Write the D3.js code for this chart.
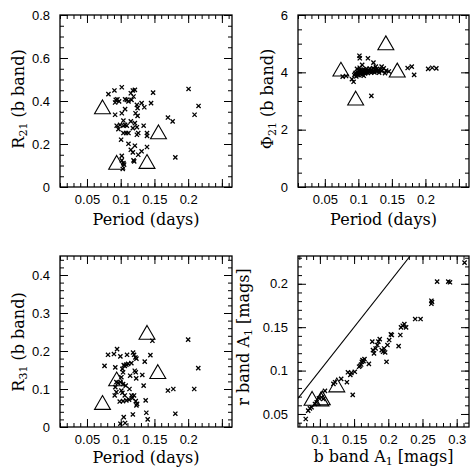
<!DOCTYPE html>
<html><head><meta charset="utf-8">
<script src="https://cdn.jsdelivr.net/npm/d3@7"></script>
<style>body{margin:0;background:#fff}svg{display:block}</style>
</head><body>
<svg id="c" width="471" height="468"></svg>
<script>
// ---------- DATA ----------
// Panel 1: R21 vs Period
const p1Period = [0.0818,0.0907,0.1016,0.0927,0.0951,0.0917,0.0976,0.1065,0.109,0.1115,0.115,0.118,0.121,0.119,0.116,0.124,0.125,0.122,0.125,0.131,0.135,0.145,0.148,0.0917,0.1016,0.1065,0.104,0.099,0.104,0.1065,0.109,0.094,0.0966,0.115,0.121,0.124,0.118,0.134,0.139,0.139,0.104,0.108,0.1115,0.124,0.126,0.1006,0.1115,0.121,0.115,0.118,0.131,0.139,0.1016,0.1016,0.104,0.105,0.103,0.119,0.12,0.126,0.170,0.177,0.181,0.2006,0.2095,0.2154];
const p1R21 = [0.432,0.449,0.464,0.405,0.408,0.393,0.398,0.408,0.405,0.398,0.436,0.449,0.452,0.421,0.405,0.382,0.367,0.343,0.331,0.390,0.371,0.390,0.439,0.336,0.343,0.362,0.309,0.289,0.285,0.289,0.285,0.285,0.269,0.305,0.297,0.278,0.274,0.285,0.251,0.238,0.251,0.251,0.251,0.243,0.251,0.220,0.201,0.192,0.173,0.161,0.166,0.186,0.145,0.124,0.111,0.104,0.084,0.124,0.119,0.150,0.323,0.305,0.138,0.456,0.336,0.377];
const p1TriPeriod = [0.073,0.094,0.139,0.156];
const p1TriR21 = [0.362,0.104,0.108,0.246];

// Panel 2: Phi21 vs Period
const p2Period = [0.0766,0.0817,0.0904,0.0929,0.1016,0.1021,0.1143,0.1225,0.1057,0.126,0.1347,0.1378,0.1414,0.1398,0.1454,0.1194,0.1735,0.1796,0.1832,0.2041,0.2102,0.2163,
  0.094,0.095,0.096,0.097,0.098,0.099,0.100,0.100,0.101,0.102,0.103,0.103,0.104,0.105,0.106,0.106,0.107,0.108,0.109,0.110,0.110,0.111,0.112,0.113,0.114,0.115,0.116,0.117,0.118,0.119,0.120,0.121,0.122,0.123,0.124,0.125,0.127,0.128,0.130,0.131,0.133,0.135,0.098,0.102,0.108];
const p2Phi21 = [3.85,3.87,3.76,3.67,4.58,4.49,4.49,4.34,4.26,4.20,4.20,4.14,4.06,3.97,4.03,3.18,4.15,4.20,3.91,4.12,4.16,4.14,
  3.90,3.95,3.98,3.86,3.93,4.00,3.96,3.90,4.05,3.99,3.94,4.08,4.02,3.97,4.05,3.92,4.00,4.10,4.03,3.96,4.07,4.00,4.12,4.04,3.98,4.08,4.02,4.13,4.05,3.99,4.09,4.03,4.15,4.06,4.00,4.10,4.04,4.12,4.06,3.99,4.10,4.04,4.12,4.16,3.88];
const p2TriPeriod = [0.074,0.096,0.141,0.158];
const p2TriPhi21 = [4.03,3.02,4.95,4.00];

// Panel 3: R31 vs Period
const p3Period = [0.0812,0.090,0.0946,0.0995,0.1094,0.1183,0.1198,0.1218,0.1233,0.1356,0.144,0.147,0.2,0.076,0.092,0.1045,0.106,0.1084,0.111,0.1025,0.1035,0.1158,0.1208,0.1223,0.114,0.123,0.132,0.134,0.101,0.0936,0.096,0.0995,0.1035,0.1074,0.092,0.0936,0.0911,0.101,0.1025,0.113,0.106,0.116,0.0985,0.1035,0.1084,0.1124,0.1173,0.1198,0.1223,0.1243,0.1233,0.137,0.118,0.138,0.14,0.1045,0.1065,0.0995,0.17,0.178,0.181,0.209,0.215];
const p3R31 = [0.190,0.192,0.205,0.186,0.190,0.196,0.190,0.183,0.180,0.172,0.189,0.227,0.230,0.161,0.157,0.163,0.161,0.164,0.166,0.153,0.144,0.168,0.148,0.144,0.135,0.128,0.137,0.109,0.131,0.118,0.116,0.118,0.113,0.109,0.105,0.092,0.083,0.096,0.090,0.100,0.083,0.083,0.067,0.068,0.070,0.072,0.076,0.083,0.068,0.061,0.057,0.070,0.033,0.0375,0.020,0.026,0.0105,0.0087,0.096,0.100,0.035,0.100,0.155];
const p3TriPeriod = [0.073,0.094,0.139,0.155];
const p3TriR31 = [0.0585,0.1205,0.243,0.1397];

// Panel 4: r band A1 vs b band A1
const p4Ab = [0.0793,0.0829,0.0854,0.0879,0.0928,0.0953,0.0986,0.1025,0.105,0.1074,0.1198,0.1222,0.1311,0.1395,0.141,0.1445,0.146,0.148,0.151,0.1573,0.1588,0.1603,0.1613,0.1623,0.1637,0.1652,0.1716,0.1766,0.1776,0.1791,0.1815,0.184,0.1855,0.1875,0.1904,0.1924,0.1939,0.1954,0.1974,0.1988,0.2013,0.2038,0.2052,0.2151,0.2176,0.2186,0.2211,0.2235,0.226,0.2393,0.2472,0.2630,0.264,0.263,0.2714,0.2877,0.2902,0.3115];
const p4Ar = [0.0442,0.0538,0.0565,0.0577,0.0615,0.0635,0.0681,0.0692,0.0673,0.0766,0.0847,0.0866,0.0905,0.0866,0.098,0.0951,0.0974,0.072,0.0986,0.1044,0.1055,0.1070,0.1101,0.1121,0.1109,0.1132,0.1077,0.1333,0.1236,0.1198,0.1255,0.1294,0.1333,0.1363,0.1236,0.1217,0.1255,0.1209,0.1101,0.1294,0.1352,0.1417,0.1410,0.1282,0.1410,0.1498,0.1517,0.1536,0.1498,0.1594,0.1594,0.1805,0.179,0.177,0.2025,0.2025,0.2017,0.2244];
const p4TriAb = [0.0886,0.1015,0.1035,0.1247];
const p4TriAr = [0.0654,0.0646,0.066,0.0808];

// Axis settings (domains and labelled tick values)
const xPeriodDomain = [0.01, 0.265];
const xPeriodLabels = [0.05, 0.1, 0.15, 0.2];
const y1Domain = [0, 0.8], y1Labels = [0, 0.2, 0.4, 0.6, 0.8];
const y2Domain = [0, 6],   y2Labels = [0, 2, 4, 6];
const y3Domain = [0, 0.45], y3Labels = [0, 0.1, 0.2, 0.3, 0.4];
const x4Domain = [0.068, 0.318], x4Labels = [0.1, 0.15, 0.2, 0.25, 0.3];
const y4Domain = [0.035, 0.232], y4Labels = [0.05, 0.1, 0.15, 0.2];

// ---------- DRAWING ----------
const svg = d3.select("#c");
const fmt = v => String(+v.toFixed(4));

function stepValues(dom, step) {
  const a = Math.ceil(dom[0] / step - 1e-6), b = Math.floor(dom[1] / step + 1e-6);
  return d3.range(a, b + 1).map(k => +(k * step).toFixed(6));
}

function panel(o) {
  const g = svg.append("g");
  const x = d3.scaleLinear().domain(o.xDomain).range([o.box[0], o.box[1]]);
  const y = d3.scaleLinear().domain(o.yDomain).range([o.box[3], o.box[2]]);
  const xMaj = stepValues(o.xDomain, o.xMajor), xMin = stepValues(o.xDomain, o.xMinor);
  const yMaj = stepValues(o.yDomain, o.yMajor), yMin = stepValues(o.yDomain, o.yMinor);
  const lab = arr => v => arr.some(a => Math.abs(a - v) < 1e-6) ? fmt(v) : "";
  const B = o.box;
  const axes = [
    [d3.axisBottom(x).tickValues(xMin).tickSize(-4).tickFormat(""), `translate(0,${B[3]})`],
    [d3.axisBottom(x).tickValues(xMaj).tickSize(-8).tickPadding(8).tickFormat(lab(o.xLabels)), `translate(0,${B[3]})`],
    [d3.axisTop(x).tickValues(xMin).tickSize(-4).tickFormat(""), `translate(0,${B[2]})`],
    [d3.axisTop(x).tickValues(xMaj).tickSize(-8).tickFormat(""), `translate(0,${B[2]})`],
    [d3.axisLeft(y).tickValues(yMin).tickSize(-4).tickFormat(""), `translate(${B[0]},0)`],
    [d3.axisLeft(y).tickValues(yMaj).tickSize(-8).tickPadding(10).tickFormat(lab(o.yLabels)), `translate(${B[0]},0)`],
    [d3.axisRight(y).tickValues(yMin).tickSize(-4).tickFormat(""), `translate(${B[1]},0)`],
    [d3.axisRight(y).tickValues(yMaj).tickSize(-8).tickFormat(""), `translate(${B[1]},0)`]
  ];
  axes.forEach(([ax, tr]) => {
    const a = g.append("g").attr("transform", tr).call(ax);
    a.select(".domain").remove();
    a.selectAll("line").attr("stroke", "#000").attr("stroke-width", 1);
    a.selectAll("text").attr("fill", "#000").style("font-family", "'Liberation Sans', Arial, sans-serif").style("font-size", "13px");
  });
  g.append("rect").attr("x", B[0]).attr("y", B[2]).attr("width", B[1] - B[0]).attr("height", B[3] - B[2])
    .attr("fill", "none").attr("stroke", "#000").attr("stroke-width", 1.3);

  const clip = "clip" + o.id;
  g.append("clipPath").attr("id", clip).append("rect")
    .attr("x", B[0]).attr("y", B[2]).attr("width", B[1] - B[0]).attr("height", B[3] - B[2]);
  const plot = g.append("g").attr("clip-path", `url(#${clip})`);

  if (o.diag) {
    const d0 = Math.max(o.xDomain[0], o.yDomain[0]), d1 = Math.min(o.xDomain[1], o.yDomain[1]);
    plot.append("line").attr("x1", x(d0)).attr("y1", y(d0)).attr("x2", x(d1)).attr("y2", y(d1))
      .attr("stroke", "#000").attr("stroke-width", 1.1);
  }
  const s = 2.1;
  const pts = o.xs.map((v, i) => [v, o.ys[i]]);
  plot.selectAll("path.cross").data(pts).join("path").attr("class", "cross")
    .attr("d", d => { const cx = x(d[0]), cy = y(d[1]);
      return `M${cx - s},${cy - s}L${cx + s},${cy + s}M${cx - s},${cy + s}L${cx + s},${cy - s}`; })
    .attr("stroke", "#000").attr("stroke-width", 1.3).attr("fill", "none");
  const tri = o.txs.map((v, i) => [v, o.tys[i]]);
  const tsym = d3.symbol().type(d3.symbolTriangle).size(110);
  plot.selectAll("path.tri").data(tri).join("path").attr("class", "tri")
    .attr("transform", d => `translate(${x(d[0])},${y(d[1])})`)
    .attr("d", tsym).attr("fill", "none").attr("stroke", "#000").attr("stroke-width", 1.1);

  // titles
  const tf = "'DejaVu Serif', 'Liberation Serif', serif";
  const addParts = (t, parts) => parts.forEach(p => t.append("tspan").text(p[0])
    .attr("font-size", p[1] ? "11px" : null).attr("dy", p[1] ? 2.5 : (p[2] ? -2.5 : null)));
  const xt = g.append("text").attr("x", (B[0] + B[1]) / 2).attr("y", o.xTitleY)
    .attr("text-anchor", "middle").style("font-family", tf).style("font-size", "16px");
  addParts(xt, o.xTitle);
  const yt = g.append("text").attr("transform", `translate(${o.yTitleX},${o.yTitleC}) rotate(-90)`)
    .attr("text-anchor", "middle").style("font-family", tf).style("font-size", "16px");
  addParts(yt, o.yTitle);
}

// title parts: [text, isSub, afterSub]
panel({id: 1, box: [60, 232, 15, 187], xDomain: xPeriodDomain, yDomain: y1Domain,
  xMajor: 0.05, xMinor: 0.01, yMajor: 0.2, yMinor: 0.05, xLabels: xPeriodLabels, yLabels: y1Labels,
  xs: p1Period, ys: p1R21, txs: p1TriPeriod, tys: p1TriR21,
  xTitle: [["Period (days)"]], xTitleY: 225,
  yTitle: [["R"], ["21", true], [" (b band)", false, true]], yTitleX: 24, yTitleC: 99});
panel({id: 2, box: [298, 469, 15, 187], xDomain: xPeriodDomain, yDomain: y2Domain,
  xMajor: 0.05, xMinor: 0.01, yMajor: 2, yMinor: 0.5, xLabels: xPeriodLabels, yLabels: y2Labels,
  xs: p2Period, ys: p2Phi21, txs: p2TriPeriod, tys: p2TriPhi21,
  xTitle: [["Period (days)"]], xTitleY: 225,
  yTitle: [["\u03A6"], ["21", true], [" (b band)", false, true]], yTitleX: 273, yTitleC: 99});
panel({id: 3, box: [60, 232, 256, 427], xDomain: xPeriodDomain, yDomain: y3Domain,
  xMajor: 0.05, xMinor: 0.01, yMajor: 0.1, yMinor: 0.02, xLabels: xPeriodLabels, yLabels: y3Labels,
  xs: p3Period, ys: p3R31, txs: p3TriPeriod, tys: p3TriR31,
  xTitle: [["Period (days)"]], xTitleY: 463,
  yTitle: [["R"], ["31", true], [" (b band)", false, true]], yTitleX: 24, yTitleC: 342});
panel({id: 4, box: [298, 469, 256, 427], xDomain: x4Domain, yDomain: y4Domain,
  xMajor: 0.05, xMinor: 0.01, yMajor: 0.05, yMinor: 0.01, xLabels: x4Labels, yLabels: y4Labels,
  xs: p4Ab, ys: p4Ar, txs: p4TriAb, tys: p4TriAr, diag: true,
  xTitle: [["b band A"], ["1", true], [" [mags]", false, true]], xTitleY: 462,
  yTitle: [["r band A"], ["1", true], [" [mags]", false, true]], yTitleX: 249, yTitleC: 337});
</script>
</body></html>
